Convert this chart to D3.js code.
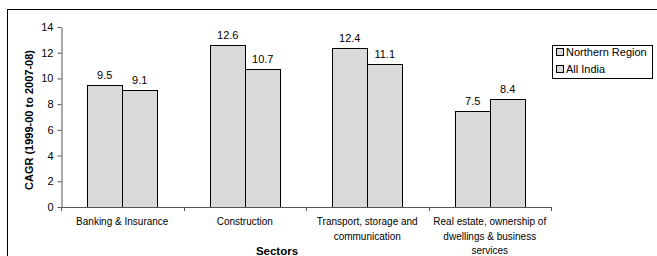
<!DOCTYPE html>
<html>
<head>
<meta charset="utf-8">
<script src="https://cdn.jsdelivr.net/npm/d3@7"></script>
<style>
  body { margin: 0; background: #fff; }
  svg { display: block; font-family: "Liberation Sans", Arial, sans-serif; }
</style>
</head>
<body>
<div id="chart"></div>
<script>
// data
var sectors = [
    ["Banking & Insurance"],
    ["Construction"],
    ["Transport, storage and", "communication"],
    ["Real estate, ownership of", "dwellings & business", "services"]
];
var seriesNames = ["Northern Region", "All India"];
var northern = [9.5, 12.6, 12.4, 7.5];
var allIndia = [9.1, 10.7, 11.1, 8.4];
var yTicks = [0, 2, 4, 6, 8, 10, 12, 14];

function main() {
    var W = 657, H = 256;
    var plot = { left: 61, right: 551, top: 27, bottom: 207 };

    var svg = d3.select("#chart").append("svg")
        .attr("width", W)
        .attr("height", H);

    // outer frame (right and bottom fall off the picture)
    svg.append("rect")
        .attr("x", 7.5).attr("y", 9.5)
        .attr("width", 700).attr("height", 300)
        .attr("fill", "none").attr("stroke", "#000").attr("stroke-width", 1);

    var x = d3.scaleBand()
        .domain(d3.range(sectors.length))
        .range([plot.left, plot.right]);

    var xSub = d3.scaleBand()
        .domain(seriesNames)
        .range([0, x.bandwidth()])
        .paddingOuter(0.75)
        .paddingInner(0);

    var y = d3.scaleLinear()
        .domain([0, 14])
        .range([plot.bottom, plot.top]);

    // bars
    var rows = sectors.map(function (s, i) {
        return [
            { key: seriesNames[0], value: northern[i], i: i },
            { key: seriesNames[1], value: allIndia[i], i: i }
        ];
    });

    var groups = svg.append("g")
        .selectAll("g")
        .data(rows)
        .enter()
        .append("g")
        .attr("transform", function (d, i) { return "translate(" + Math.round(x(i)) + ",0)"; });

    groups.selectAll("rect")
        .data(function (d) { return d; })
        .enter()
        .append("rect")
        .attr("x", function (d) { return Math.round(xSub(d.key)) + 0.5; })
        .attr("y", function (d) { return Math.round(y(d.value)) + 0.5; })
        .attr("width", Math.round(xSub.bandwidth()))
        .attr("height", function (d) { return plot.bottom - Math.round(y(d.value)); })
        .attr("fill", "#d9d9d9")
        .attr("stroke", "#000")
        .attr("stroke-width", 1);

    groups.selectAll("text")
        .data(function (d) { return d; })
        .enter()
        .append("text")
        .attr("x", function (d) { return xSub(d.key) + xSub.bandwidth() / 2; })
        .attr("y", function (d) { return y(d.value) - 6; })
        .attr("text-anchor", "middle")
        .style("font-size", "11px")
        .text(function (d) { return d.value; });

    // y axis
    var yAxis = svg.append("g")
        .attr("transform", "translate(" + (plot.left + 0.5) + ",0)")
        .call(d3.axisLeft(y).tickValues(yTicks).tickSize(4).tickPadding(4).tickSizeOuter(0));
    yAxis.selectAll("text").style("font-size", "11px").attr("fill", "#000")
        .style("font-family", "'Liberation Sans', Arial, sans-serif");
    yAxis.selectAll("line, path").attr("stroke", "#555");

    // x axis with ticks at category boundaries
    var xg = svg.append("g");
    xg.append("line")
        .attr("x1", plot.left).attr("x2", plot.right)
        .attr("y1", plot.bottom + 0.5).attr("y2", plot.bottom + 0.5)
        .attr("stroke", "#555");
    xg.selectAll("line.tick")
        .data(d3.range(sectors.length + 1))
        .enter()
        .append("line")
        .attr("class", "tick")
        .attr("x1", function (i) { return Math.round(i < sectors.length ? x(i) : plot.right) + 0.5; })
        .attr("x2", function (i) { return Math.round(i < sectors.length ? x(i) : plot.right) + 0.5; })
        .attr("y1", plot.bottom).attr("y2", plot.bottom + 4)
        .attr("stroke", "#555");

    // category labels
    var labels = svg.append("g")
        .selectAll("text")
        .data(sectors)
        .enter()
        .append("text")
        .attr("text-anchor", "middle")
        .attr("transform", function (d, i) { return "translate(" + (x(i) + x.bandwidth() / 2) + ",225)"; })
        .style("font-size", "10px");
    labels.selectAll("tspan")
        .data(function (d) { return d; })
        .enter()
        .append("tspan")
        .attr("x", 0)
        .attr("dy", function (d, j) { return j === 0 ? 0 : 14.5; })
        .text(function (d) { return d; });

    // axis titles
    svg.append("text")
        .attr("x", 277).attr("y", 255)
        .attr("text-anchor", "middle")
        .style("font-size", "11.5px")
        .style("font-weight", "bold")
        .text("Sectors");

    svg.append("clipPath").attr("id", "yclip")
        .append("rect").attr("x", 0).attr("y", 42).attr("width", 60).attr("height", 200);
    svg.append("g").attr("clip-path", "url(#yclip)")
        .append("text")
        .attr("transform", "translate(32.5,190) rotate(-90)")
        .attr("text-anchor", "start")
        .style("font-size", "11px")
        .style("font-weight", "bold")
        .text("CAGR (1999-00 to 2007-08)");

    // legend
    var lg = svg.append("g");
    lg.append("rect")
        .attr("x", 552.5).attr("y", 45.5)
        .attr("width", 100).attr("height", 33)
        .attr("fill", "#fff").attr("stroke", "#000");
    var items = lg.selectAll("g.item")
        .data(seriesNames)
        .enter()
        .append("g")
        .attr("class", "item")
        .attr("transform", function (d, i) { return "translate(0," + (52 + i * 17) + ")"; });
    items.append("rect")
        .attr("x", 556.5).attr("y", -3.5)
        .attr("width", 7).attr("height", 7)
        .attr("fill", "#d9d9d9").attr("stroke", "#000");
    items.append("text")
        .attr("x", 566).attr("y", 4)
        .style("font-size", "11px")
        .text(function (d) { return d; });
}
window.addEventListener('load', main);
</script>
</body>
</html>
